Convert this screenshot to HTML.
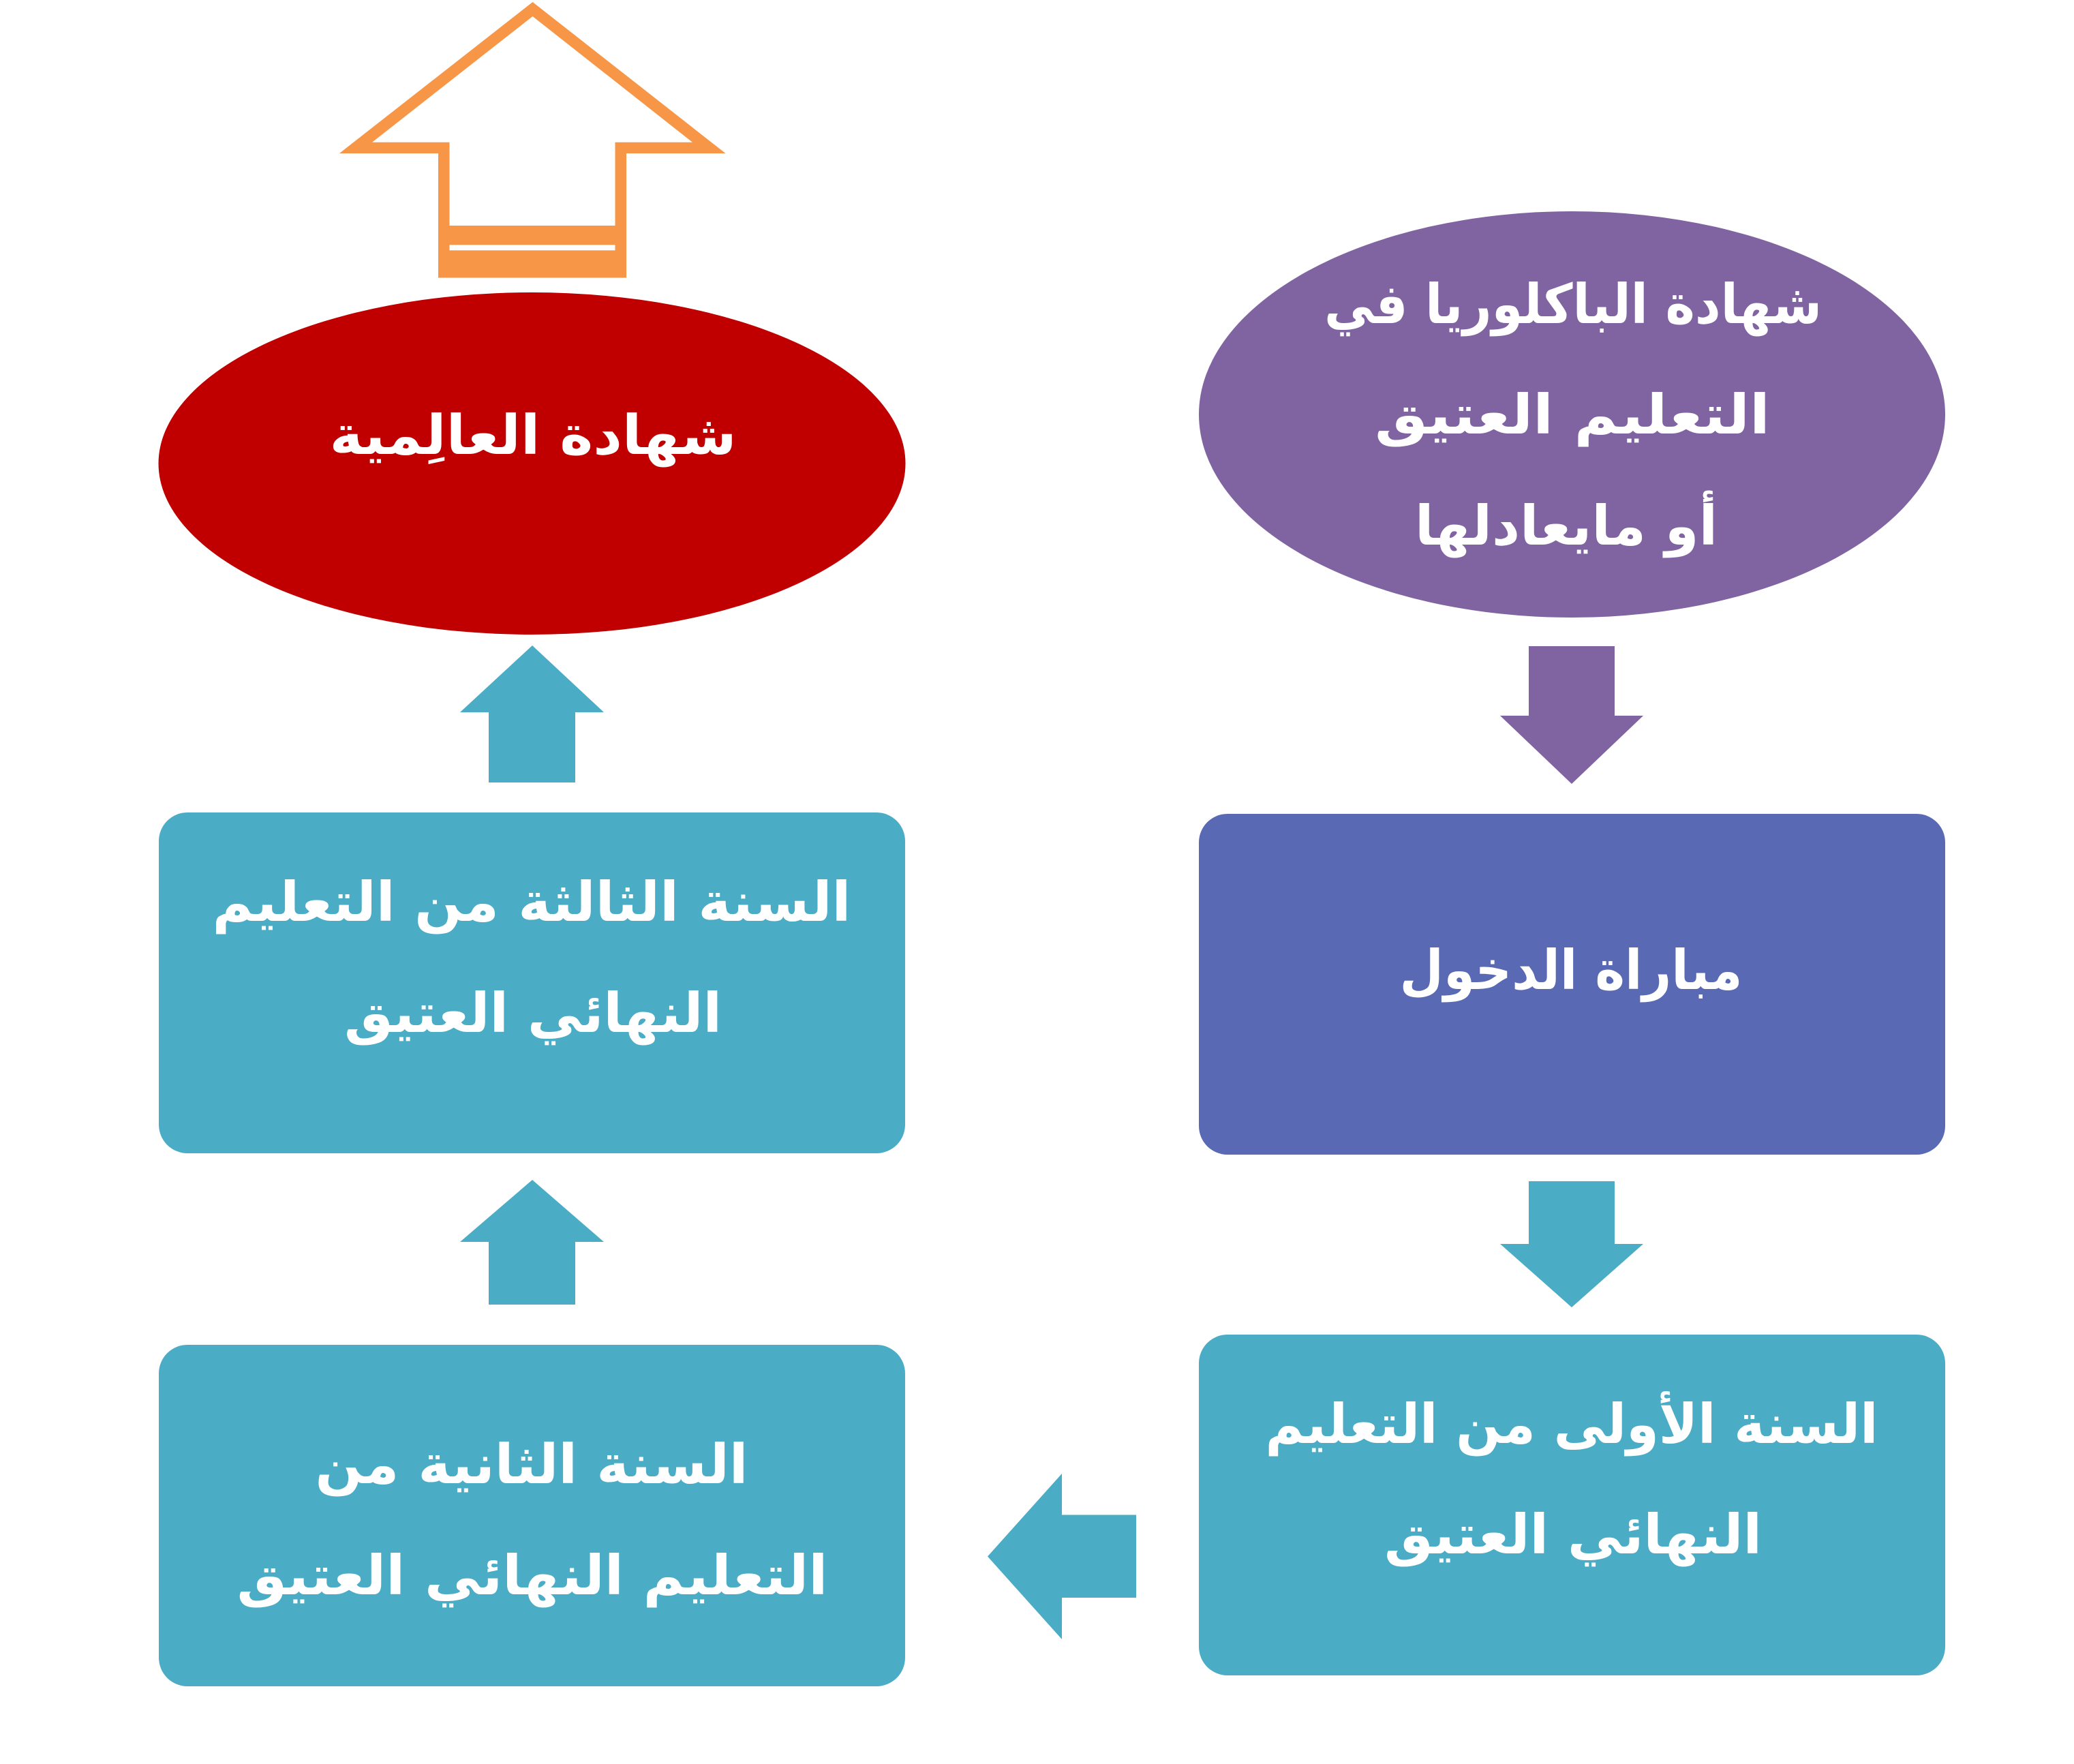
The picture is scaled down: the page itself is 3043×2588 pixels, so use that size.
<!DOCTYPE html>
<html>
<head>
<meta charset="utf-8">
<style>
html,body{margin:0;padding:0;background:#fff;}
svg{display:block;}
text{font-family:"DejaVu Sans",sans-serif;font-weight:bold;fill:#fff;font-size:80px;}
</style>
</head>
<body>
<svg width="3043" height="2588" viewBox="0 0 3043 2588" xmlns="http://www.w3.org/2000/svg">
  <rect width="3043" height="2588" fill="#ffffff"/>

  <!-- Orange outlined arrow -->
  <path fill="#F79646" fill-rule="evenodd" d="
    M781.5,3 L1064.5,225 L919,225 L919,407.5 L643,407.5 L643,225 L498,225 Z
    M781.5,24 L546,208.7 L659.5,208.7 L659.5,331 L902.5,331 L902.5,208.7 L1016,208.7 Z"/>
  <rect x="659.5" y="359.3" width="243" height="8" fill="#ffffff"/>

  <!-- Red ellipse -->
  <ellipse cx="780.5" cy="680" rx="548" ry="251" fill="#C00000"/>
  <text x="782" y="666" text-anchor="middle" direction="rtl" textLength="597" lengthAdjust="spacingAndGlyphs">شهادة  العالِمية</text>

  <!-- Purple ellipse -->
  <ellipse cx="2306.5" cy="608" rx="547.5" ry="298" fill="#8064A2"/>
  <text x="2308" y="474" text-anchor="middle" direction="rtl" textLength="730" lengthAdjust="spacingAndGlyphs">شهادة الباكلوريا في</text>
  <text x="2307" y="636" text-anchor="middle" direction="rtl" textLength="580" lengthAdjust="spacingAndGlyphs">التعليم العتيق</text>
  <text x="2298" y="799" text-anchor="middle" direction="rtl" textLength="444" lengthAdjust="spacingAndGlyphs">أو مايعادلها</text>

  <!-- Purple down arrow -->
  <polygon fill="#8064A2" points="2243,948 2369,948 2369,1050 2411,1050 2306,1150 2201,1050 2243,1050"/>

  <!-- Indigo box -->
  <rect x="1759" y="1194" width="1095" height="500" rx="42" ry="42" fill="#5A69B3"/>
  <text x="2305" y="1451" text-anchor="middle" direction="rtl" textLength="503" lengthAdjust="spacingAndGlyphs">مباراة الدخول</text>

  <!-- Teal down arrow -->
  <polygon fill="#4BACC6" points="2243,1733 2369,1733 2369,1825 2411,1825 2306,1918 2201,1825 2243,1825"/>

  <!-- Box first year -->
  <rect x="1759" y="1958" width="1095" height="500" rx="42" ry="42" fill="#4BACC6"/>
  <text x="2306" y="2117" text-anchor="middle" direction="rtl" textLength="899" lengthAdjust="spacingAndGlyphs">السنة الأولى من التعليم</text>
  <text x="2308" y="2279" text-anchor="middle" direction="rtl" textLength="554" lengthAdjust="spacingAndGlyphs">النهائي العتيق</text>

  <!-- Left arrow -->
  <polygon fill="#4BACC6" points="1667,2222.5 1667,2344 1558,2344 1558,2405 1449,2283.5 1558,2162 1558,2222.5"/>

  <!-- Box second year -->
  <rect x="233" y="1973" width="1095" height="501" rx="42" ry="42" fill="#4BACC6"/>
  <text x="780" y="2176" text-anchor="middle" direction="rtl" textLength="635" lengthAdjust="spacingAndGlyphs">السنة الثانية من</text>
  <text x="781" y="2339" text-anchor="middle" direction="rtl" textLength="867" lengthAdjust="spacingAndGlyphs">التعليم النهائي العتيق</text>

  <!-- Up arrow lower -->
  <polygon fill="#4BACC6" points="717,1914 844,1914 844,1822 886,1822 781,1731 675,1822 717,1822"/>

  <!-- Box third year -->
  <rect x="233" y="1192" width="1095" height="500" rx="42" ry="42" fill="#4BACC6"/>
  <text x="780" y="1351" text-anchor="middle" direction="rtl" textLength="937" lengthAdjust="spacingAndGlyphs">السنة الثالثة من التعليم</text>
  <text x="782" y="1514" text-anchor="middle" direction="rtl" textLength="554" lengthAdjust="spacingAndGlyphs">النهائي العتيق</text>

  <!-- Up arrow upper -->
  <polygon fill="#4BACC6" points="717,1148 844,1148 844,1045 886,1045 781,947 675,1045 717,1045"/>
</svg>
</body>
</html>
